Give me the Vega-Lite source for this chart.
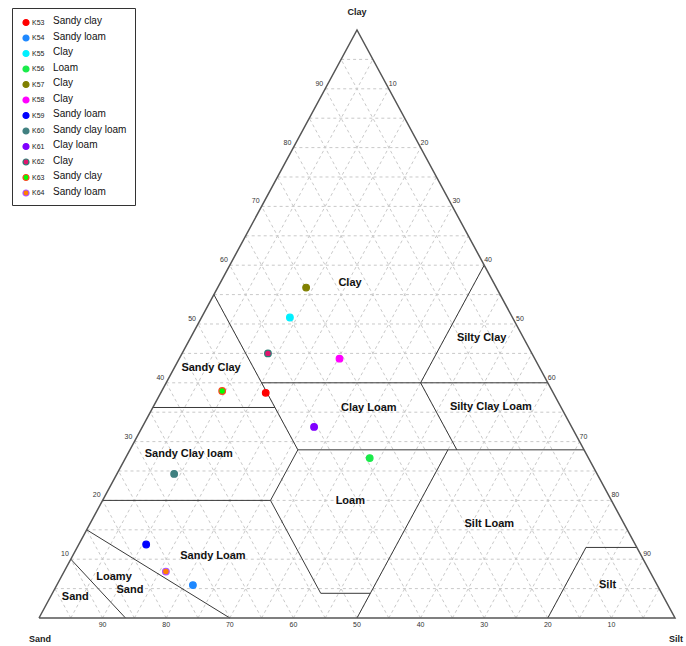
{
  "$schema": "https://vega.github.io/schema/vega-lite/v6.json",
  "width": 686,
  "height": 646,
  "autosize": "none",
  "padding": 0,
  "background": "white",
  "config": {"view": {"stroke": null}, "font": "Liberation Sans"},
  "datasets": {
    "samples": [
      {"sample": "K53", "texture": "Sandy clay", "sand": 45.2, "silt": 16.5, "clay": 38.3},
      {"sample": "K54", "texture": "Sandy loam", "sand": 73.0, "silt": 21.4, "clay": 5.6},
      {"sample": "K55", "texture": "Clay", "sand": 35.0, "silt": 13.9, "clay": 51.1},
      {"sample": "K56", "texture": "Loam", "sand": 34.4, "silt": 38.4, "clay": 27.2},
      {"sample": "K57", "texture": "Clay", "sand": 29.9, "silt": 13.9, "clay": 56.2},
      {"sample": "K58", "texture": "Clay", "sand": 30.7, "silt": 25.2, "clay": 44.1},
      {"sample": "K59", "texture": "Sandy loam", "sand": 76.9, "silt": 10.6, "clay": 12.5},
      {"sample": "K60", "texture": "Sandy clay loam", "sand": 66.5, "silt": 9.0, "clay": 24.5},
      {"sample": "K61", "texture": "Clay loam", "sand": 40.5, "silt": 27.0, "clay": 32.5},
      {"sample": "K62", "texture": "Clay", "sand": 41.5, "silt": 13.5, "clay": 45.0},
      {"sample": "K63", "texture": "Sandy clay", "sand": 51.9, "silt": 9.5, "clay": 38.6},
      {"sample": "K64", "texture": "Sandy loam", "sand": 76.1, "silt": 16.0, "clay": 7.9}
    ],
    "outline": [
      {"i": 0, "sand": 100, "silt": 0, "clay": 0},
      {"i": 1, "sand": 0, "silt": 0, "clay": 100},
      {"i": 2, "sand": 0, "silt": 100, "clay": 0},
      {"i": 3, "sand": 100, "silt": 0, "clay": 0}
    ],
    "boundaries": [
      {"b": "A", "i": 0, "sand": 45, "silt": 0, "clay": 55},
      {"b": "A", "i": 1, "sand": 45, "silt": 26.4, "clay": 28.6},
      {"b": "B", "i": 0, "sand": 45, "silt": 15, "clay": 40},
      {"b": "B", "i": 1, "sand": 0, "silt": 60, "clay": 40},
      {"b": "C", "i": 0, "sand": 0, "silt": 40, "clay": 60},
      {"b": "C", "i": 1, "sand": 20, "silt": 40, "clay": 40},
      {"b": "D", "i": 0, "sand": 20, "silt": 40, "clay": 40},
      {"b": "D", "i": 1, "sand": 20, "silt": 51.4, "clay": 28.6},
      {"b": "E", "i": 0, "sand": 45, "silt": 26.4, "clay": 28.6},
      {"b": "E", "i": 1, "sand": 0, "silt": 71.4, "clay": 28.6},
      {"b": "F", "i": 0, "sand": 64.2, "silt": 0, "clay": 35.8},
      {"b": "F", "i": 1, "sand": 45, "silt": 19.2, "clay": 35.8},
      {"b": "G", "i": 0, "sand": 45, "silt": 26.4, "clay": 28.6},
      {"b": "G", "i": 1, "sand": 53.6, "silt": 26.4, "clay": 20},
      {"b": "G", "i": 2, "sand": 53.6, "silt": 42.2, "clay": 4.2},
      {"b": "G", "i": 3, "sand": 45.8, "silt": 50, "clay": 4.2},
      {"b": "H", "i": 0, "sand": 80, "silt": 0, "clay": 20},
      {"b": "H", "i": 1, "sand": 53.6, "silt": 26.4, "clay": 20},
      {"b": "K", "i": 0, "sand": 21.4, "silt": 50, "clay": 28.6},
      {"b": "K", "i": 1, "sand": 50, "silt": 50, "clay": 0},
      {"b": "L", "i": 0, "sand": 0, "silt": 88, "clay": 12},
      {"b": "L", "i": 1, "sand": 8, "silt": 80, "clay": 12},
      {"b": "L", "i": 2, "sand": 20, "silt": 80, "clay": 0},
      {"b": "M", "i": 0, "sand": 85, "silt": 0, "clay": 15},
      {"b": "M", "i": 1, "sand": 70, "silt": 30, "clay": 0},
      {"b": "N", "i": 0, "sand": 90, "silt": 0, "clay": 10},
      {"b": "N", "i": 1, "sand": 86.4, "silt": 13.6, "clay": 0}
    ],
    "regions": [
      {"name": "Clay", "sand": 22.6, "silt": 20.4, "clay": 57.0},
      {"name": "Silty Clay", "sand": 6.6, "silt": 45.8, "clay": 47.6},
      {"name": "Sandy Clay", "sand": 51.7, "silt": 5.8, "clay": 42.5},
      {"name": "Silty Clay Loam", "sand": 11.0, "silt": 53.1, "clay": 35.9},
      {"name": "Clay Loam", "sand": 30.3, "silt": 34.0, "clay": 35.7},
      {"name": "Sandy Clay loam", "sand": 62.5, "silt": 9.6, "clay": 27.9},
      {"name": "Loam", "sand": 41.1, "silt": 39.0, "clay": 19.9},
      {"name": "Silt Loam", "sand": 21.2, "silt": 62.8, "clay": 16.0},
      {"name": "Sandy Loam", "sand": 67.4, "silt": 22.1, "clay": 10.5},
      {"name": "Loamy", "sand": 84.7, "silt": 8.3, "clay": 7.0},
      {"name": "Sand", "sand": 83.3, "silt": 11.9, "clay": 4.8},
      {"name": "Sand", "sand": 92.5, "silt": 3.9, "clay": 3.6},
      {"name": "Silt", "sand": 7.8, "silt": 86.6, "clay": 5.6}
    ],
    "corners": [
      {"name": "Clay", "sand": 0, "silt": 0, "clay": 100},
      {"name": "Sand", "sand": 100, "silt": 0, "clay": 0},
      {"name": "Silt", "sand": 0, "silt": 100, "clay": 0}
    ],
    "grid": [
      {"dir": "clay", "k": 5}, {"dir": "clay", "k": 10}, {"dir": "clay", "k": 15}, {"dir": "clay", "k": 20},
      {"dir": "clay", "k": 25}, {"dir": "clay", "k": 30}, {"dir": "clay", "k": 35}, {"dir": "clay", "k": 40},
      {"dir": "clay", "k": 45}, {"dir": "clay", "k": 50}, {"dir": "clay", "k": 55}, {"dir": "clay", "k": 60},
      {"dir": "clay", "k": 65}, {"dir": "clay", "k": 70}, {"dir": "clay", "k": 75}, {"dir": "clay", "k": 80},
      {"dir": "clay", "k": 85}, {"dir": "clay", "k": 90}, {"dir": "clay", "k": 95},
      {"dir": "silt", "k": 5}, {"dir": "silt", "k": 10}, {"dir": "silt", "k": 15}, {"dir": "silt", "k": 20},
      {"dir": "silt", "k": 25}, {"dir": "silt", "k": 30}, {"dir": "silt", "k": 35}, {"dir": "silt", "k": 40},
      {"dir": "silt", "k": 45}, {"dir": "silt", "k": 50}, {"dir": "silt", "k": 55}, {"dir": "silt", "k": 60},
      {"dir": "silt", "k": 65}, {"dir": "silt", "k": 70}, {"dir": "silt", "k": 75}, {"dir": "silt", "k": 80},
      {"dir": "silt", "k": 85}, {"dir": "silt", "k": 90}, {"dir": "silt", "k": 95},
      {"dir": "sand", "k": 5}, {"dir": "sand", "k": 10}, {"dir": "sand", "k": 15}, {"dir": "sand", "k": 20},
      {"dir": "sand", "k": 25}, {"dir": "sand", "k": 30}, {"dir": "sand", "k": 35}, {"dir": "sand", "k": 40},
      {"dir": "sand", "k": 45}, {"dir": "sand", "k": 50}, {"dir": "sand", "k": 55}, {"dir": "sand", "k": 60},
      {"dir": "sand", "k": 65}, {"dir": "sand", "k": 70}, {"dir": "sand", "k": 75}, {"dir": "sand", "k": 80},
      {"dir": "sand", "k": 85}, {"dir": "sand", "k": 90}, {"dir": "sand", "k": 95}
    ],
    "ticks": [
      {"edge": "clay", "v": 10}, {"edge": "clay", "v": 20}, {"edge": "clay", "v": 30},
      {"edge": "clay", "v": 40}, {"edge": "clay", "v": 50}, {"edge": "clay", "v": 60},
      {"edge": "clay", "v": 70}, {"edge": "clay", "v": 80}, {"edge": "clay", "v": 90},
      {"edge": "silt", "v": 10}, {"edge": "silt", "v": 20}, {"edge": "silt", "v": 30},
      {"edge": "silt", "v": 40}, {"edge": "silt", "v": 50}, {"edge": "silt", "v": 60},
      {"edge": "silt", "v": 70}, {"edge": "silt", "v": 80}, {"edge": "silt", "v": 90},
      {"edge": "sand", "v": 10}, {"edge": "sand", "v": 20}, {"edge": "sand", "v": 30},
      {"edge": "sand", "v": 40}, {"edge": "sand", "v": 50}, {"edge": "sand", "v": 60},
      {"edge": "sand", "v": 70}, {"edge": "sand", "v": 80}, {"edge": "sand", "v": 90}
    ]
  },
  "layer": [
    {
      "description": "Dashed 5% grid: one rule per constant clay, silt or sand level",
      "data": {"name": "grid"},
      "transform": [
        {"calculate": "datum.dir == 'clay' ? datum.k / 2 : datum.dir == 'silt' ? datum.k : 100 - datum.k", "as": "gx"},
        {"calculate": "datum.dir == 'clay' ? datum.k : 0", "as": "gy"},
        {"calculate": "datum.dir == 'clay' ? 100 - datum.k / 2 : datum.dir == 'silt' ? 50 + datum.k / 2 : (100 - datum.k) / 2", "as": "gx2"},
        {"calculate": "datum.dir == 'clay' ? datum.k : 100 - datum.k", "as": "gy2"}
      ],
      "mark": {"type": "rule", "stroke": "#c9c9c9", "strokeWidth": 1, "strokeDash": [3, 3]},
      "encoding": {
        "x": {"field": "gx", "type": "quantitative", "scale": {"domain": [-6.132, 101.73], "nice": false, "zero": false}, "axis": null},
        "y": {"field": "gy", "type": "quantitative", "scale": {"domain": [-4.762, 105.102], "nice": false, "zero": false}, "axis": null},
        "x2": {"field": "gx2"},
        "y2": {"field": "gy2"}
      }
    },
    {
      "description": "Texture class boundaries",
      "data": {"name": "boundaries"},
      "transform": [
        {"calculate": "datum.silt + datum.clay / 2", "as": "tx"},
        {"calculate": "datum.clay", "as": "ty"}
      ],
      "mark": {"type": "line", "stroke": "#3a3a3a", "strokeWidth": 1},
      "encoding": {
        "x": {"field": "tx", "type": "quantitative", "scale": {"domain": [-6.132, 101.73], "nice": false, "zero": false}, "axis": null},
        "y": {"field": "ty", "type": "quantitative", "scale": {"domain": [-4.762, 105.102], "nice": false, "zero": false}, "axis": null},
        "detail": {"field": "b"},
        "order": {"field": "i", "type": "quantitative"}
      }
    },
    {
      "description": "Triangle frame",
      "data": {"name": "outline"},
      "transform": [
        {"calculate": "datum.silt + datum.clay / 2", "as": "tx"},
        {"calculate": "datum.clay", "as": "ty"}
      ],
      "mark": {"type": "line", "stroke": "#555555", "strokeWidth": 1.5},
      "encoding": {
        "x": {"field": "tx", "type": "quantitative", "scale": {"domain": [-6.132, 101.73], "nice": false, "zero": false}, "axis": null},
        "y": {"field": "ty", "type": "quantitative", "scale": {"domain": [-4.762, 105.102], "nice": false, "zero": false}, "axis": null},
        "order": {"field": "i", "type": "quantitative"}
      }
    },
    {
      "description": "Clay percentages along the left edge",
      "data": {"name": "ticks"},
      "transform": [
        {"filter": "datum.edge == 'clay'"},
        {"calculate": "datum.v / 2", "as": "tx"},
        {"calculate": "datum.v", "as": "ty"}
      ],
      "mark": {"type": "text", "align": "right", "baseline": "middle", "dx": -2, "dy": -5, "fontSize": 7, "fill": "#333333"},
      "encoding": {
        "x": {"field": "tx", "type": "quantitative", "scale": {"domain": [-6.132, 101.73], "nice": false, "zero": false}, "axis": null},
        "y": {"field": "ty", "type": "quantitative", "scale": {"domain": [-4.762, 105.102], "nice": false, "zero": false}, "axis": null},
        "text": {"field": "v", "type": "quantitative"}
      }
    },
    {
      "description": "Silt percentages along the right edge",
      "data": {"name": "ticks"},
      "transform": [
        {"filter": "datum.edge == 'silt'"},
        {"calculate": "datum.v + (100 - datum.v) / 2", "as": "tx"},
        {"calculate": "100 - datum.v", "as": "ty"}
      ],
      "mark": {"type": "text", "align": "left", "baseline": "middle", "dx": 0, "dy": -5, "fontSize": 7, "fill": "#333333"},
      "encoding": {
        "x": {"field": "tx", "type": "quantitative", "scale": {"domain": [-6.132, 101.73], "nice": false, "zero": false}, "axis": null},
        "y": {"field": "ty", "type": "quantitative", "scale": {"domain": [-4.762, 105.102], "nice": false, "zero": false}, "axis": null},
        "text": {"field": "v", "type": "quantitative"}
      }
    },
    {
      "description": "Sand percentages along the base",
      "data": {"name": "ticks"},
      "transform": [
        {"filter": "datum.edge == 'sand'"},
        {"calculate": "100 - datum.v", "as": "tx"},
        {"calculate": "0", "as": "ty"}
      ],
      "mark": {"type": "text", "align": "center", "baseline": "middle", "dy": 7, "fontSize": 7, "fill": "#333333"},
      "encoding": {
        "x": {"field": "tx", "type": "quantitative", "scale": {"domain": [-6.132, 101.73], "nice": false, "zero": false}, "axis": null},
        "y": {"field": "ty", "type": "quantitative", "scale": {"domain": [-4.762, 105.102], "nice": false, "zero": false}, "axis": null},
        "text": {"field": "v", "type": "quantitative"}
      }
    },
    {
      "description": "Apex title",
      "data": {"name": "corners"},
      "transform": [
        {"filter": "datum.name == 'Clay'"},
        {"calculate": "datum.silt + datum.clay / 2", "as": "tx"},
        {"calculate": "datum.clay", "as": "ty"}
      ],
      "mark": {"type": "text", "align": "center", "baseline": "middle", "dy": -18, "fontSize": 9, "fontWeight": "bold", "fill": "#222222"},
      "encoding": {
        "x": {"field": "tx", "type": "quantitative", "scale": {"domain": [-6.132, 101.73], "nice": false, "zero": false}, "axis": null},
        "y": {"field": "ty", "type": "quantitative", "scale": {"domain": [-4.762, 105.102], "nice": false, "zero": false}, "axis": null},
        "text": {"field": "name"}
      }
    },
    {
      "description": "Base corner titles",
      "data": {"name": "corners"},
      "transform": [
        {"filter": "datum.name != 'Clay'"},
        {"calculate": "datum.silt + datum.clay / 2", "as": "tx"},
        {"calculate": "datum.clay", "as": "ty"}
      ],
      "mark": {"type": "text", "align": "center", "baseline": "middle", "dx": 1, "dy": 21, "fontSize": 9, "fontWeight": "bold", "fill": "#222222"},
      "encoding": {
        "x": {"field": "tx", "type": "quantitative", "scale": {"domain": [-6.132, 101.73], "nice": false, "zero": false}, "axis": null},
        "y": {"field": "ty", "type": "quantitative", "scale": {"domain": [-4.762, 105.102], "nice": false, "zero": false}, "axis": null},
        "text": {"field": "name"}
      }
    },
    {
      "description": "Texture class names",
      "data": {"name": "regions"},
      "transform": [
        {"calculate": "datum.silt + datum.clay / 2", "as": "tx"},
        {"calculate": "datum.clay", "as": "ty"}
      ],
      "mark": {"type": "text", "align": "center", "baseline": "middle", "fontSize": 11, "fontWeight": "bold", "fill": "#111111"},
      "encoding": {
        "x": {"field": "tx", "type": "quantitative", "scale": {"domain": [-6.132, 101.73], "nice": false, "zero": false}, "axis": null},
        "y": {"field": "ty", "type": "quantitative", "scale": {"domain": [-4.762, 105.102], "nice": false, "zero": false}, "axis": null},
        "text": {"field": "name"}
      }
    },
    {
      "description": "Soil samples",
      "data": {"name": "samples"},
      "transform": [
        {"calculate": "datum.silt + datum.clay / 2", "as": "tx"},
        {"calculate": "datum.clay", "as": "ty"},
        {"calculate": "datum.sample + '|' + datum.texture", "as": "entry"}
      ],
      "mark": {"type": "point", "filled": true, "size": 44, "strokeWidth": 1.2, "opacity": 1},
      "encoding": {
        "x": {"field": "tx", "type": "quantitative", "scale": {"domain": [-6.132, 101.73], "nice": false, "zero": false}, "axis": null},
        "y": {"field": "ty", "type": "quantitative", "scale": {"domain": [-4.762, 105.102], "nice": false, "zero": false}, "axis": null},
        "color": {
          "field": "sample",
          "type": "nominal",
          "scale": {
            "domain": ["K53", "K54", "K55", "K56", "K57", "K58", "K59", "K60", "K61", "K62", "K63", "K64"],
            "range": ["#ff0000", "#1e88ff", "#00f0ff", "#1aeb4a", "#808000", "#ff00ff", "#0000ff", "#408080", "#8000ff", "#e0156e", "#00ff00", "#ff8000"]
          },
          "legend": {
            "orient": "none", "legendX": 22, "legendY": 18.5, "title": null, "padding": 0,
            "symbolType": "circle", "symbolSize": 36, "symbolStrokeWidth": 1.2,
            "labelFontSize": 7, "labelColor": "#222222", "labelOffset": 2, "rowPadding": 3.5
          }
        },
        "stroke": {
          "field": "sample",
          "type": "nominal",
          "scale": {
            "domain": ["K53", "K54", "K55", "K56", "K57", "K58", "K59", "K60", "K61", "K62", "K63", "K64"],
            "range": ["#ff0000", "#1e88ff", "#00f0ff", "#1aeb4a", "#808000", "#ff00ff", "#0000ff", "#408080", "#8000ff", "#2a7f75", "#ff4422", "#b050ff"]
          },
          "legend": null
        },
        "shape": {
          "field": "entry",
          "type": "nominal",
          "scale": {"range": ["circle"]},
          "legend": {
            "orient": "none", "legendX": 12, "legendY": 8, "title": null, "padding": 8,
            "strokeColor": "#333333",
            "symbolSize": 4, "symbolOpacity": 0, "symbolStrokeWidth": 0,
            "labelFontSize": 10, "labelColor": "#111111", "labelOffset": 23, "rowPadding": 5.5,
            "labelExpr": "split(datum.label, '|')[1] + '\u2003'"
          }
        }
      }
    }
  ]
}
